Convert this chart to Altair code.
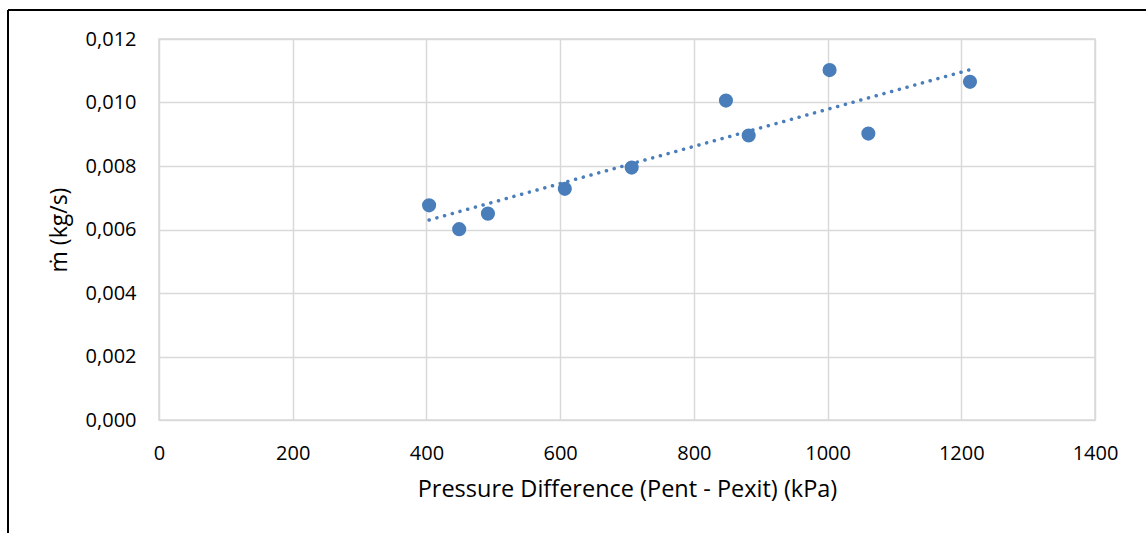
import altair as alt
import pandas as pd

pressure_kpa = [404, 449, 492, 607, 707, 848, 882, 1003, 1061, 1213]
mass_flow = [0.00676, 0.00601, 0.00650, 0.00728, 0.00795, 0.01006, 0.00896, 0.01102, 0.00902, 0.01065]

x_ticks = [0, 200, 400, 600, 800, 1000, 1200, 1400]
y_ticks = [0.000, 0.002, 0.004, 0.006, 0.008, 0.010, 0.012]

df = pd.DataFrame({"p": pressure_kpa, "m": mass_flow})

BLUE = "#4a7ebb"
FONT = "Open Sans"

x_enc = alt.X("p:Q", scale=alt.Scale(domain=[0, 1400], nice=False),
              axis=alt.Axis(values=x_ticks, title="Pressure Difference (Pent - Pexit) (kPa)",
                            labelPadding=23, titlePadding=14, format="d", labelFlush=False,
                            titleFontSize=23.5))
y_enc = alt.Y("m:Q", scale=alt.Scale(domain=[0, 0.012], nice=False),
              axis=alt.Axis(values=y_ticks, title="ṁ   (kg/s)",
                            labelExpr="replace(format(datum.value, '.3f'), '.', ',')",
                            labelPadding=23, titlePadding=14, labelFlush=False,
                            titleFontSize=23))

points = alt.Chart(df).mark_circle(size=200, color=BLUE, opacity=1).encode(x=x_enc, y=y_enc)

trend = alt.Chart(df).transform_regression("p", "m").mark_line(
    color=BLUE, strokeWidth=3.5, strokeDash=[0.1, 7.9], strokeCap="round"
).encode(x="p:Q", y="m:Q")

frame_top = alt.Chart(df).mark_rule(color="black", strokeWidth=2, clip=False).encode(
    x=alt.value(-151), x2=alt.value(1000), y=alt.value(-29))
frame_left = alt.Chart(df).mark_rule(color="black", strokeWidth=2, clip=False).encode(
    x=alt.value(-151), y=alt.value(-29), y2=alt.value(600))

chart = alt.layer(trend, points, frame_top, frame_left).properties(
    width=936, height=381,
    padding={"left": 159, "top": 39, "right": 51, "bottom": 113},
    autosize=alt.AutoSizeParams(type="none"),
    background="white",
).configure_view(stroke="#d9d9d9", strokeWidth=1.5).configure_axis(
    grid=True, gridColor="#d9d9d9", gridWidth=1.5, domain=False, ticks=False,
    labelFont=FONT, labelFontSize=20, labelColor="#000000",
    titleFont=FONT, titleFontSize=22, titleFontWeight="normal", titleColor="#000000",
)

chart.save("out.html", embed_options={"renderer": "svg", "actions": False})
